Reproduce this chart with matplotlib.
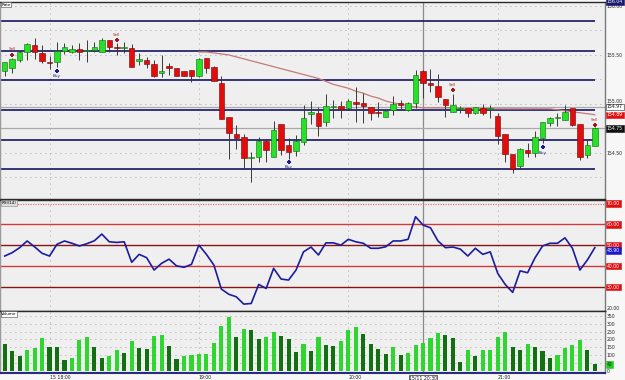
import matplotlib
matplotlib.use("Agg")
import matplotlib.pyplot as plt
import matplotlib.transforms as mtransforms
import numpy as np

# 3 minute bars, 17:42 -> 21:39
opens = [155.34, 155.37, 155.45, 155.53, 155.60, 155.52, 155.43, 155.43, 155.54, 155.53,
         155.56, 155.54, 155.55, 155.53, 155.65, 155.58, 155.57, 155.57, 155.44, 155.45,
         155.41, 155.32, 155.39, 155.37, 155.34, 155.35, 155.29, 155.47, 155.38, 155.21,
         154.87, 154.69, 154.66, 154.45, 154.46, 154.62, 154.46, 154.80, 154.58, 154.52,
         154.61, 154.90, 154.91, 154.82, 154.97, 154.98, 154.96, 155.02, 155.01, 154.97,
         154.92, 154.87, 154.94, 155.01, 154.94, 155.01, 155.34, 155.21, 155.18, 155.05,
         154.92, 154.95, 154.96, 154.91, 154.96, 154.95, 154.88, 154.69, 154.49, 154.37,
         154.53, 154.50, 154.65, 154.81, 154.86, 154.84, 154.96, 154.80, 154.48, 154.57]
highs = [155.43, 155.47, 155.54, 155.62, 155.67, 155.60, 155.49, 155.63, 155.62, 155.60,
         155.62, 155.65, 155.63, 155.67, 155.65, 155.62, 155.63, 155.61, 155.52, 155.48,
         155.45, 155.50, 155.42, 155.37, 155.34, 155.35, 155.47, 155.47, 155.39, 155.28,
         154.87, 154.78, 154.69, 154.51, 154.66, 154.63, 154.83, 154.80, 154.65, 154.68,
         154.99, 155.03, 154.97, 155.10, 155.04, 155.03, 155.05, 155.17, 155.11, 154.97,
         155.02, 154.93, 155.08, 155.04, 155.02, 155.35, 155.35, 155.36, 155.31, 155.05,
         155.10, 154.98, 154.96, 154.97, 155.00, 154.99, 154.91, 154.69, 154.49, 154.55,
         154.60, 154.72, 154.82, 154.87, 154.91, 154.99, 154.96, 154.80, 154.63, 154.76]
lows = [155.29, 155.32, 155.43, 155.45, 155.46, 155.42, 155.36, 155.38, 155.51, 155.52,
        155.45, 155.43, 155.53, 155.53, 155.53, 155.50, 155.52, 155.38, 155.40, 155.37,
        155.27, 155.27, 155.30, 155.29, 155.28, 155.22, 155.27, 155.32, 155.23, 154.85,
        154.44, 154.54, 154.34, 154.20, 154.41, 154.41, 154.46, 154.48, 154.44, 154.47,
        154.58, 154.80, 154.67, 154.77, 154.86, 154.86, 154.94, 154.82, 154.81, 154.84,
        154.87, 154.87, 154.89, 154.94, 154.93, 154.96, 155.06, 155.12, 155.02, 154.87,
        154.92, 154.91, 154.87, 154.90, 154.89, 154.86, 154.59, 154.41, 154.30, 154.34,
        154.46, 154.46, 154.60, 154.77, 154.77, 154.84, 154.77, 154.43, 154.45, 154.57]
closes = [155.43, 155.46, 155.53, 155.61, 155.53, 155.44, 155.42, 155.54, 155.58, 155.56,
          155.53, 155.55, 155.58, 155.65, 155.58, 155.57, 155.58, 155.38, 155.46, 155.41,
          155.28, 155.34, 155.37, 155.29, 155.28, 155.29, 155.46, 155.37, 155.23, 154.85,
          154.70, 154.65, 154.45, 154.46, 154.62, 154.53, 154.73, 154.53, 154.51, 154.62,
          154.86, 154.92, 154.77, 154.98, 154.98, 154.95, 155.03, 155.00, 154.98, 154.91,
          154.91, 154.93, 155.00, 154.99, 155.01, 155.30, 155.21, 155.19, 155.07, 154.99,
          154.99, 154.96, 154.91, 154.97, 154.91, 154.95, 154.67, 154.49, 154.34, 154.54,
          154.50, 154.66, 154.82, 154.86, 154.86, 154.92, 154.79, 154.46, 154.58, 154.75]

volume = [170, 125, 93, 132, 144, 208, 151, 150, 68, 81,
          199, 216, 151, 83, 93, 132, 116, 189, 144, 138,
          223, 226, 157, 78, 93, 104, 105, 108, 176, 286,
          345, 216, 265, 263, 204, 216, 250, 223, 204, 123,
          174, 127, 218, 168, 157, 193, 263, 280, 233, 174,
          140, 106, 153, 100, 112, 168, 178, 212, 244, 231,
          208, 57, 132, 95, 132, 134, 216, 250, 153, 132,
          170, 155, 125, 81, 100, 146, 163, 197, 134, 42]

rsi = [44.9, 46.5, 48.9, 52.1, 49.3, 46.2, 44.9, 50.5, 52.1, 51.0,
       49.7, 50.8, 52.2, 55.4, 51.7, 51.4, 51.7, 41.9, 45.7, 44.1,
       38.2, 41.4, 43.4, 40.2, 39.5, 40.9, 50.1, 45.7, 40.6, 29.1,
       26.6, 25.4, 21.9, 22.2, 31.3, 29.4, 39.0, 33.9, 33.4, 38.2,
       46.9, 49.2, 45.4, 51.2, 51.2, 50.1, 52.9, 51.7, 51.0, 48.6,
       48.6, 49.3, 52.1, 52.1, 52.9, 63.7, 59.7, 58.4, 52.1, 48.9,
       49.2, 48.2, 44.9, 48.6, 45.7, 46.9, 36.6, 31.3, 27.5, 37.8,
       36.9, 44.1, 49.7, 51.0, 51.0, 53.6, 48.6, 38.2, 43.0, 48.9]

# slow moving average, starts at bar 26
ma_start = 26
ma_vals = [155.53, 155.53, 155.52, 155.51, 155.50, 155.48, 155.46, 155.44, 155.42, 155.40,
           155.38, 155.36, 155.34, 155.32, 155.30, 155.28, 155.26, 155.23, 155.20, 155.18,
           155.16, 155.13, 155.11, 155.08, 155.06, 155.03, 155.01, 155.00, 154.98, 154.97,
           154.96, 154.96, 154.96, 154.96, 154.96, 154.95, 154.95, 154.95, 154.95, 154.95,
           154.95, 154.95, 154.95, 154.95, 154.95, 154.95, 154.95, 154.95, 154.94, 154.93,
           154.92, 154.91, 154.90, 154.89]

sell_idx = [1, 15, 60, 79]
sell_px = [155.50, 155.65, 155.14, 154.78]
buy_idx = [7, 38, 72]
buy_px = [155.34, 154.41, 154.56]

levels = [155.85, 155.54, 155.24, 154.94, 154.63, 154.34]
gray_levels = [154.97, 154.75]
rsi_levels = [60, 50, 40, 30]

hour_idx = [6, 26, 46, 66]
hour_lbl = ["15 18:00", "19:00", "20:00", "21:00"]
cross_idx = 56
cross_lbl = "15/11 20:30"

W, H = 625, 380
fig = plt.figure(figsize=(W / 100, H / 100), dpi=100, facecolor="#f7f7f7")


def panel(top, bottom, right=605):
    return fig.add_axes([0, 1 - bottom / H, right / W, (bottom - top) / H])


ax1 = panel(2, 199)
ax2 = panel(200, 311)
ax3 = panel(311, 373)

n = len(closes)
x = np.arange(n)
XLIM = (-0.63, 80.36)
dots = (0, (1, 5))
LBL = 3.3

for ax in (ax1, ax2, ax3):
    ax.set_facecolor("#efefef")
    ax.set_xlim(*XLIM)
    ax.set_xticks([])
    ax.yaxis.tick_right()
    ax.tick_params(axis="y", length=0, pad=1.2, labelsize=LBL, colors="#222222")
    for s in ax.spines.values():
        s.set_color("#2a2a2a")
        s.set_linewidth(1.0)
    ax.spines["left"].set_color("#9a9a9a")
    ax.spines["right"].set_color("#7a7a7a")
    for h in hour_idx:
        ax.axvline(h, color="#8c8c8c", lw=0.6, ls=dots, zorder=0)
    ax.axvline(cross_idx, color="#8a8a8a", lw=0.9, zorder=1)


def side_label(ax, y, txt, fc, tc="white", ec=None):
    ax.text(1.003, y, txt, transform=ax.get_yaxis_transform(), fontsize=LBL,
            va="center", ha="left", color=tc, clip_on=False, zorder=10,
            bbox=dict(boxstyle="square,pad=0.15", fc=fc, ec=ec or fc, lw=0.4))


# ---- price panel
ax1.set_ylim(154.03, 156.04)
for v in np.arange(154.25, 156.01, 0.25):
    ax1.axhline(v, color="#8c8c8c", lw=0.6, ls=dots, zorder=0)
ax1.hlines(levels, XLIM[0], 79.0, color="#26266e", lw=1.3, zorder=2)
for g in gray_levels:
    ax1.axhline(g, color="#a8a8a8", lw=0.9, zorder=1)
ax1.plot(x[ma_start:], ma_vals, color="#c47a7a", lw=0.9, zorder=2)

o = np.array(opens)
c = np.array(closes)
up = c >= o
ax1.vlines(x, lows, highs, color="#3a3a3a", lw=0.7, zorder=3)
ax1.bar(x, np.maximum(np.abs(c - o), 0.004), bottom=np.minimum(o, c), width=0.74,
        color=np.where(up, "#27e127", "#e40b0b"),
        edgecolor=np.where(up, "#0f6a0f", "#6a0a0a"), linewidth=0.4, zorder=4)

ax1.scatter(sell_idx, sell_px, marker="P", s=5, color="#a01818", zorder=5, linewidths=0)
ax1.scatter(buy_idx, buy_px, marker="P", s=5, color="#1a1a8a", zorder=5, linewidths=0)
for i, p in zip(sell_idx, sell_px):
    ax1.annotate("Sell", (i, p), xytext=(0, 2.5), textcoords="offset points",
                 fontsize=3, color="#b03030", ha="center", va="bottom")
for i, p in zip(buy_idx, buy_px):
    ax1.annotate("Buy", (i, p), xytext=(0, -2.5), textcoords="offset points",
                 fontsize=3, color="#1a1a8a", ha="center", va="top")

ax1.set_yticks([154.5, 155.0, 155.5, 156.0])
ax1.set_yticklabels(["154.50", "155.00", "155.50", "156.00"])
ax1.get_yticklabels()[1].set_va("bottom")
side_label(ax1, 154.97, "154.97", "white", tc="#111111", ec="#222222")
side_label(ax1, ma_vals[-1], "%.2f" % ma_vals[-1], "#e01010")
side_label(ax1, closes[-1], "%.2f" % closes[-1], "#111111")
side_label(ax1, 156.045, "156.04", "#1a1a70")
ax1.text(0.002, 0.997, "Rate", transform=ax1.transAxes, fontsize=3, va="top",
         ha="left", bbox=dict(boxstyle="square,pad=0.15", fc="white", ec="#444444", lw=0.4))

# ---- RSI panel
ax2.set_ylim(18.6, 71.7)
ax2.axhline(70, color="#e07a7a", lw=0.9, ls=(0, (1, 1)), zorder=1)
for lv in rsi_levels:
    ax2.axhline(lv, color="#d23a3a" if lv in (60, 40) else "#8a1414", lw=1.0, zorder=1)
ax2.plot(x, rsi, color="#1c1c9c", lw=1.2, zorder=3)
ax2.set_yticks([20])
ax2.set_yticklabels(["20.00"])
for lv in [70] + rsi_levels:
    side_label(ax2, lv, "%.2f" % lv, "#dd1111")
side_label(ax2, rsi[-1] - 1.4, "%.2f" % rsi[-1], "#1a1acc")
ax2.text(0.002, 0.99, "RSI(14)", transform=ax2.transAxes, fontsize=3, va="top",
         ha="left", bbox=dict(boxstyle="square,pad=0.15", fc="#dddddd", ec="#888888", lw=0.4))

# ---- volume panel
vol = np.array(volume)
rising = np.r_[False, vol[1:] > vol[:-1]]
ax3.set_ylim(-12, 380)
for v in range(50, 351, 50):
    ax3.axhline(v, color="#8c8c8c", lw=0.6, ls=dots, zorder=0)
ax3.bar(x, vol, width=0.55, color=np.where(rising, "#2fd62f", "#126f12"), zorder=3)
ax3.set_yticks(range(0, 351, 50))
ax3.set_yticklabels([str(v) for v in range(0, 351, 50)])
side_label(ax3, volume[-1], str(volume[-1]), "#22cc22", tc="#0a3a0a")
ax3.spines["bottom"].set_color("#2a2a80")
ax3.spines["bottom"].set_linewidth(1.5)
ax3.text(0.002, 0.985, "Volume", transform=ax3.transAxes, fontsize=3, va="top",
         ha="left", bbox=dict(boxstyle="square,pad=0.15", fc="white", ec="#444444", lw=0.4))

tr = mtransforms.blended_transform_factory(ax3.transData, ax3.transAxes)
for h, lbl in zip(hour_idx, hour_lbl):
    ax3.text(h, -0.035, lbl, transform=tr, fontsize=3.3, va="top", ha="left",
             color="#222222", clip_on=False)
ax3.text(cross_idx, -0.035, cross_lbl, transform=tr, fontsize=3.3, va="top", ha="center",
         color="#111111", clip_on=False,
         bbox=dict(boxstyle="square,pad=0.1", fc="white", ec="#333333", lw=0.5))

fig.savefig("out.png", dpi=100, facecolor=fig.get_facecolor())
